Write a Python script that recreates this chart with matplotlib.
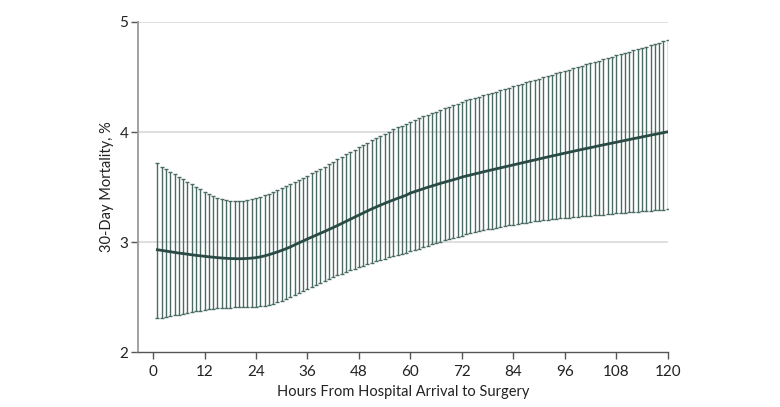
import numpy as np
import matplotlib
matplotlib.use("Agg")
import matplotlib.pyplot as plt

# hours from arrival to surgery, one estimate per hour
hours = np.arange(1, 121)

mortality = [
    2.930, 2.924, 2.918, 2.912, 2.906, 2.900, 2.895, 2.890, 2.884, 2.879,
    2.875, 2.870, 2.866, 2.862, 2.858, 2.855, 2.852, 2.850, 2.849, 2.848,
    2.849, 2.851, 2.854, 2.858, 2.865, 2.874, 2.885, 2.897, 2.910, 2.924,
    2.939, 2.955, 2.974, 2.992, 3.010, 3.028, 3.045, 3.062, 3.079, 3.096,
    3.114, 3.132, 3.150, 3.169, 3.188, 3.207, 3.226, 3.245, 3.264, 3.283,
    3.301, 3.318, 3.335, 3.351, 3.367, 3.382, 3.397, 3.411, 3.425, 3.445,
    3.458, 3.471, 3.484, 3.497, 3.509, 3.521, 3.533, 3.544, 3.555, 3.566,
    3.577, 3.590, 3.600, 3.609, 3.619, 3.628, 3.638, 3.647, 3.656, 3.665,
    3.674, 3.683, 3.692, 3.701, 3.710, 3.719, 3.728, 3.737, 3.746, 3.755,
    3.764, 3.773, 3.782, 3.790, 3.799, 3.808, 3.816, 3.825, 3.833, 3.842,
    3.850, 3.858, 3.866, 3.875, 3.883, 3.891, 3.899, 3.907, 3.915, 3.923,
    3.931, 3.939, 3.947, 3.955, 3.963, 3.971, 3.979, 3.986, 3.994, 4.002,
]

upper = [
    3.715, 3.685, 3.661, 3.636, 3.615, 3.594, 3.573, 3.550, 3.527, 3.504,
    3.481, 3.459, 3.438, 3.419, 3.404, 3.392, 3.383, 3.377, 3.374, 3.374,
    3.377, 3.383, 3.391, 3.401, 3.413, 3.426, 3.440, 3.455, 3.471, 3.488,
    3.506, 3.524, 3.543, 3.562, 3.582, 3.602, 3.623, 3.644, 3.665, 3.686,
    3.708, 3.730, 3.752, 3.774, 3.796, 3.818, 3.840, 3.862, 3.883, 3.904,
    3.925, 3.945, 3.965, 3.985, 4.004, 4.023, 4.041, 4.059, 4.077, 4.094,
    4.110, 4.126, 4.141, 4.156, 4.171, 4.186, 4.200, 4.214, 4.229, 4.243,
    4.257, 4.272, 4.287, 4.298, 4.310, 4.322, 4.333, 4.345, 4.357, 4.368,
    4.380, 4.392, 4.404, 4.415, 4.427, 4.439, 4.450, 4.462, 4.474, 4.485,
    4.497, 4.509, 4.520, 4.532, 4.544, 4.555, 4.567, 4.579, 4.590, 4.602,
    4.614, 4.626, 4.637, 4.649, 4.661, 4.672, 4.684, 4.696, 4.707, 4.719,
    4.731, 4.742, 4.754, 4.766, 4.777, 4.789, 4.801, 4.812, 4.824, 4.836,
]

lower = [
    2.306, 2.313, 2.320, 2.327, 2.334, 2.341, 2.348, 2.355, 2.362, 2.369,
    2.376, 2.382, 2.388, 2.393, 2.397, 2.400, 2.402, 2.404, 2.405, 2.406,
    2.407, 2.408, 2.410, 2.413, 2.417, 2.422, 2.430, 2.441, 2.454, 2.468,
    2.484, 2.501, 2.518, 2.536, 2.554, 2.572, 2.590, 2.608, 2.626, 2.644,
    2.662, 2.679, 2.696, 2.712, 2.728, 2.743, 2.758, 2.772, 2.786, 2.799,
    2.812, 2.824, 2.836, 2.848, 2.860, 2.871, 2.882, 2.893, 2.904, 2.915,
    2.928, 2.941, 2.954, 2.966, 2.978, 2.990, 3.002, 3.014, 3.026, 3.037,
    3.048, 3.059, 3.069, 3.079, 3.088, 3.097, 3.106, 3.114, 3.122, 3.130,
    3.137, 3.144, 3.151, 3.158, 3.164, 3.170, 3.176, 3.182, 3.187, 3.192,
    3.197, 3.202, 3.206, 3.210, 3.214, 3.218, 3.222, 3.226, 3.230, 3.233,
    3.237, 3.240, 3.244, 3.247, 3.250, 3.254, 3.257, 3.260, 3.263, 3.266,
    3.269, 3.272, 3.275, 3.278, 3.281, 3.284, 3.287, 3.290, 3.293, 3.296,
]

xticks = [0, 12, 24, 36, 48, 60, 72, 84, 96, 108, 120]
yticks = [2, 3, 4, 5]

plt.rcParams['font.family'] = ['Lato', 'DejaVu Sans']

fig = plt.figure(figsize=(7.8, 4.07), dpi=100)
ax = fig.add_axes([0.177, 0.135, 0.679, 0.811])

mort = np.array(mortality)
yerr = [mort - np.array(lower), np.array(upper) - mort]

for y in [3, 4, 5]:
    ax.axhline(y, color='#dcdcdc', linewidth=1.3, zorder=0)

ax.errorbar(hours, mort, yerr=yerr, fmt='none', ecolor='#4a6b64',
            elinewidth=1.0, capsize=1.6, capthick=1.0, zorder=2)
ax.plot(hours, mort, color='#2a4b45', linewidth=2.0, zorder=3)

ax.set_xlim(-3.5, 120)
ax.set_ylim(2, 5)
ax.set_xticks(xticks)
ax.set_yticks(yticks)

ax.spines['top'].set_visible(False)
ax.spines['right'].set_visible(False)
ax.spines['left'].set_color('#9a9a9a')
ax.spines['left'].set_linewidth(1.3)
ax.spines['bottom'].set_color('#555555')
ax.spines['bottom'].set_linewidth(1.0)
ax.tick_params(axis='y', colors='#555555', length=5, width=1.0,
               labelsize=11, labelcolor='#222222', pad=2)
ax.tick_params(axis='x', colors='#555555', length=5, width=1.0,
               labelsize=11, labelcolor='#222222', pad=4)

ax.set_xlabel('Hours From Hospital Arrival to Surgery', fontsize=10.5,
              color='#222222', labelpad=5)
ax.set_ylabel('30-Day Mortality, %', fontsize=10.5, color='#222222',
              labelpad=4)

fig.savefig('out.png', dpi=100)
